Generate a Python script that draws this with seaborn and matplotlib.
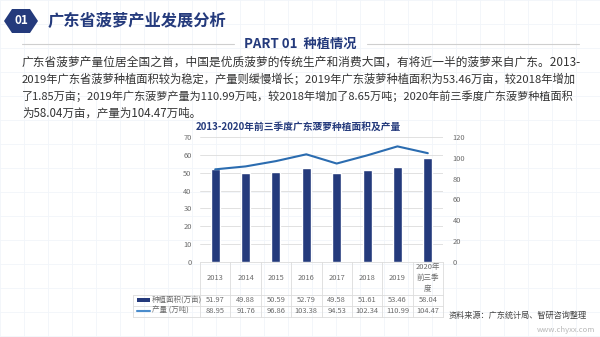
import matplotlib
matplotlib.use("Agg")
import matplotlib.pyplot as plt
import matplotlib.transforms as mtransforms
from matplotlib.patches import Polygon, Rectangle
from matplotlib.lines import Line2D
import seaborn as sns
import pandas as pd

# ---- data ----
years = ["2013", "2014", "2015", "2016", "2017", "2018", "2019", "2020年\n前三季\n度"]
area = [51.97, 49.88, 50.59, 52.79, 49.58, 51.61, 53.46, 58.04]          # 万亩
output = [88.95, 91.76, 96.86, 103.38, 94.53, 102.34, 110.99, 104.47]    # 万吨
area_label = "种植面积(万亩)"
output_label = "产量 (万吨)"
left_ticks = [0, 10, 20, 30, 40, 50, 60, 70]
right_ticks = [0, 20, 40, 60, 80, 100, 120]

title = "广东省菠萝产业发展分析"
section = "PART 01  种植情况"
paragraph = [
    "广东省菠萝产量位居全国之首，中国是优质菠萝的传统生产和消费大国，有将近一半的菠萝来自广东。2013-",
    "2019年广东省菠萝种植面积较为稳定，产量则缓慢增长；2019年广东菠萝种植面积为53.46万亩，较2018年增加",
    "了1.85万亩；2019年广东菠萝产量为110.99万吨，较2018年增加了8.65万吨；2020年前三季度广东菠萝种植面积",
    "为58.04万亩，产量为104.47万吨。",
]
chart_title = "2013-2020年前三季度广东菠萝种植面积及产量"
source = "资料来源：广东统计局、智研咨询整理"
site = "www.chyxx.com"

NAVY = "#243a7c"
BLUE = "#2b6cb0"
GRID = "#dcdcdc"
TXT = "#6b6b6b"
SMALL = 5.4

sns.set_theme(style="white")
plt.rcParams["font.family"] = ["Noto Sans CJK SC", "DejaVu Sans"]

W, H = 600, 337
fig = plt.figure(figsize=(6, 3.37), dpi=100)
fig.patch.set_facecolor("white")
renderer = fig.canvas.get_renderer()


def fx(x):
    return x / W


def fy(y):
    return 1 - y / H


# faint background grid
for gx in range(0, W + 1, 24):
    fig.add_artist(Line2D([fx(gx), fx(gx)], [0, 1], color="#f1f5fa", lw=0.6, zorder=0))
for gy in range(0, H + 1, 24):
    fig.add_artist(Line2D([0, 1], [fy(gy), fy(gy)], color="#f1f5fa", lw=0.6, zorder=0))

# ---- header ----
hexagon = Polygon([(fx(4), fy(21)), (fx(12), fy(9)), (fx(30), fy(9)),
                   (fx(38), fy(21)), (fx(30), fy(33)), (fx(12), fy(33))],
                  closed=True, transform=fig.transFigure, facecolor=NAVY, edgecolor="none")
fig.add_artist(hexagon)
fig.text(fx(21), fy(21), "01", color="white", fontsize=8.5, fontweight="bold",
         ha="center", va="center")
fig.text(fx(48), fy(21), title, color=NAVY, fontsize=11.7, fontweight="bold",
         ha="left", va="center")

fig.add_artist(Line2D([fx(22), fx(234)], [fy(44), fy(44)], color="#cfcfcf", lw=0.8))
fig.add_artist(Line2D([fx(367), fx(579)], [fy(44), fy(44)], color="#cfcfcf", lw=0.8))
fig.text(fx(300), fy(44), section, color=NAVY, fontsize=9.5, fontweight="bold",
         ha="center", va="center")

# paragraph: full lines are fitted to the text block width (justified look)
block_right = [578, 577, 574, None]
base_size = 8.3
for k, (line, right) in enumerate(zip(paragraph, block_right)):
    t = fig.text(fx(22), fy(62 + 17 * k), line, color="#333333", fontsize=base_size,
                 ha="left", va="center")
    if right is not None:
        width = t.get_window_extent(renderer).width
        t.set_fontsize(base_size * (right - 22) / width)

fig.text(fx(298), fy(127), chart_title, color=NAVY, fontsize=7, fontweight="bold",
         ha="center", va="center")

# ---- chart ----
ax = fig.add_axes([fx(200), fy(262), 243 / W, 125 / H])
df = pd.DataFrame({"year": years, "area": area, "output": output})
sns.barplot(data=df, x="year", y="area", color=NAVY, width=0.3, saturation=1,
            ax=ax, zorder=2)
ax.set_xlim(-0.5, len(years) - 0.5)
ax.set_ylim(0, 70)
ax.set_yticks(left_ticks)
ax.yaxis.grid(True, color=GRID, lw=0.6)
ax.set_axisbelow(True)
ax.set_xticks([])
ax.set_xlabel("")
ax.set_ylabel("")
ax.patch.set_alpha(0)
for s in ax.spines.values():
    s.set_visible(False)
ax.tick_params(axis="y", length=0, pad=6, labelsize=SMALL, labelcolor=TXT)

ax2 = ax.twinx()
sns.lineplot(data=df, x="year", y="output", color=BLUE, lw=1.5, sort=False, ax=ax2)
ax2.set_ylim(0, 120)
ax2.set_yticks(right_ticks)
ax2.set_xlim(-0.5, len(years) - 0.5)
ax2.set_xlabel("")
ax2.set_ylabel("")
for s in ax2.spines.values():
    s.set_visible(False)
ax2.tick_params(axis="y", length=0, pad=7, labelsize=SMALL, labelcolor=TXT)
ax2.set_xticks([])

# ---- data table under the chart ----
trans = mtransforms.blended_transform_factory(ax.transData, fig.transFigure)
for i, (lab, a, o) in enumerate(zip(years, area, output)):
    ax.text(i, fy(278), lab, transform=trans, ha="center", va="center",
            fontsize=SMALL, color=TXT, linespacing=1.55, clip_on=False)
    ax.text(i, fy(300), f"{a:.2f}", transform=trans, ha="center", va="center",
            fontsize=SMALL, color=TXT, clip_on=False)
    ax.text(i, fy(311), f"{o:.2f}", transform=trans, ha="center", va="center",
            fontsize=SMALL, color=TXT, clip_on=False)

# table rules
for k in range(len(years) + 1):
    ax.add_artist(Line2D([k - 0.5, k - 0.5], [fy(262), fy(317)], transform=trans,
                         color=GRID, lw=0.6, clip_on=False))
fig.add_artist(Line2D([fx(200), fx(443)], [fy(262), fy(262)], color=GRID, lw=0.6))
for yy in (295, 306, 317):
    fig.add_artist(Line2D([fx(133), fx(443)], [fy(yy), fy(yy)], color=GRID, lw=0.6))
fig.add_artist(Line2D([fx(133), fx(133)], [fy(295), fy(317)], color=GRID, lw=0.6))

# row keys
fig.add_artist(Rectangle((fx(137), fy(301.5)), 13 / W, 3.5 / H,
                         transform=fig.transFigure, facecolor=NAVY, edgecolor="none"))
fig.add_artist(Line2D([fx(137), fx(150)], [fy(311), fy(311)], color="#4a8ccc", lw=1.5))
fig.text(fx(152), fy(300), area_label, fontsize=SMALL, color=TXT, ha="left", va="center")
fig.text(fx(152), fy(311), output_label, fontsize=SMALL, color=TXT, ha="left", va="center")

# ---- footer ----
fig.text(fx(587), fy(315), source, fontsize=5.9, color="#444444", ha="right", va="center")
fig.text(fx(595), fy(330), site, fontsize=5.5, color="#b8b8b8", ha="right", va="center")

fig.savefig("out.png", dpi=100, facecolor="white")
